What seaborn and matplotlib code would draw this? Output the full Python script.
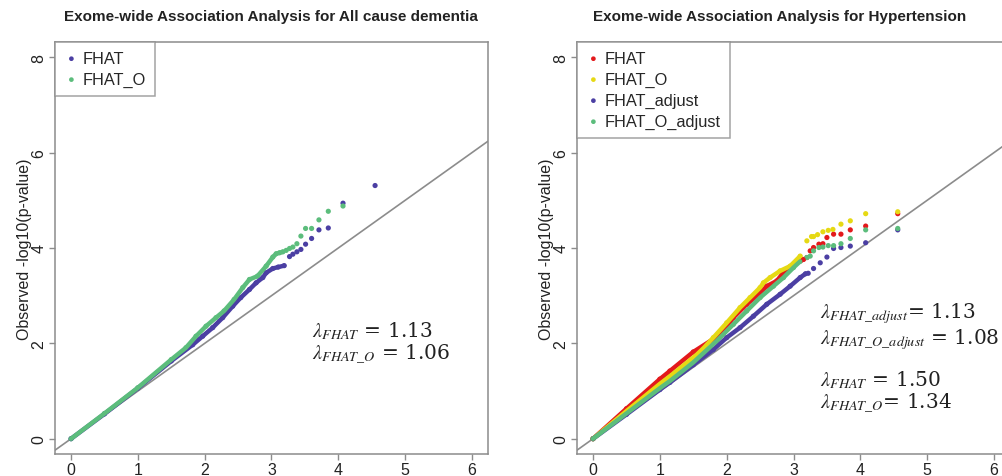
import numpy as np
import pandas as pd
import matplotlib
matplotlib.use("Agg")
import matplotlib.pyplot as plt
import seaborn as sns

# Expected vs observed -log10(p)
# --- All cause dementia ---
dem_fhat_x = [0, 0.5, 1.0, 1.5, 1.82, 1.97, 2.12, 2.27, 2.42, 2.54, 2.67, 2.77, 2.87, 2.92, 3.02, 3.10, 3.19,
              3.27, 3.32, 3.38, 3.44, 3.51, 3.60, 3.71, 3.85, 4.07, 4.55]
dem_fhat_y = [0, 0.52, 1.06, 1.63, 1.97, 2.15, 2.33, 2.54, 2.78, 2.96, 3.13, 3.27, 3.38, 3.48, 3.57, 3.60, 3.63,
              3.82, 3.87, 3.92, 3.97, 4.08, 4.20, 4.38, 4.42, 4.94, 5.31]
dem_fhato_x = [0, 0.5, 1.0, 1.5, 1.72, 1.87, 2.02, 2.17, 2.29, 2.44, 2.57, 2.67, 2.79, 2.92, 3.02, 3.07, 3.12, 3.17,
               3.22, 3.27, 3.32, 3.38, 3.44, 3.51, 3.60, 3.71, 3.85, 4.07]
dem_fhato_y = [0, 0.53, 1.07, 1.66, 1.91, 2.15, 2.36, 2.54, 2.68, 2.92, 3.17, 3.34, 3.41, 3.62, 3.81, 3.88, 3.90, 3.92,
               3.95, 3.99, 4.02, 4.09, 4.25, 4.41, 4.41, 4.59, 4.77, 4.88]

# --- Hypertension ---
hyp_fhat_x = [0, 0.5, 1.0, 1.15, 1.5, 1.9, 2.1, 2.3, 2.48, 2.6, 2.75, 2.83, 3.05, 3.15,
              3.2, 3.25, 3.3, 3.38, 3.44, 3.5, 3.6, 3.71, 3.85, 4.08, 4.56]
hyp_fhat_y = [0, 0.63, 1.25, 1.42, 1.82, 2.18, 2.54, 2.82, 3.03, 3.20, 3.31, 3.45, 3.69, 3.76,
              3.80, 3.94, 4.01, 4.08, 4.09, 4.22, 4.29, 4.29, 4.38, 4.46, 4.72]
hyp_fhato_x = [0, 0.5, 1.0, 1.15, 1.55, 1.66, 1.8, 2.0, 2.2, 2.35, 2.5, 2.55, 2.65, 2.8, 2.95, 3.1,
               3.2, 3.27, 3.3, 3.36, 3.44, 3.52, 3.59, 3.71, 3.85, 4.08, 4.56]
hyp_fhato_y = [0, 0.58, 1.15, 1.31, 1.76, 1.91, 2.12, 2.43, 2.75, 2.96, 3.17, 3.27, 3.38, 3.52, 3.62, 3.83,
               4.15, 4.24, 4.24, 4.28, 4.34, 4.37, 4.39, 4.50, 4.57, 4.72, 4.76]
hyp_adj_x = [0, 0.5, 1.0, 1.15, 1.5, 1.8, 2.0, 2.2, 2.4, 2.6, 2.8, 2.95, 3.1, 3.18,
             3.22, 3.30, 3.40, 3.50, 3.60, 3.71, 3.85, 4.08, 4.56]
hyp_adj_y = [0, 0.51, 1.03, 1.18, 1.55, 1.87, 2.12, 2.33, 2.57, 2.82, 3.03, 3.20, 3.38, 3.46,
             3.47, 3.57, 3.69, 3.81, 3.99, 4.01, 4.04, 4.11, 4.38]
hyp_oadj_x = [0, 0.5, 1.0, 1.15, 1.5, 1.85, 2.1, 2.3, 2.5, 2.7, 2.85, 3.0, 3.1,
              3.2, 3.25, 3.30, 3.38, 3.44, 3.52, 3.60, 3.71, 3.85, 4.08, 4.56]
hyp_oadj_y = [0, 0.53, 1.06, 1.21, 1.60, 2.05, 2.40, 2.68, 2.96, 3.20, 3.38, 3.59, 3.72,
              3.80, 3.83, 3.94, 4.01, 4.02, 4.05, 4.05, 4.09, 4.20, 4.38, 4.41]

titles = ["Exome-wide Association Analysis for All cause dementia",
          "Exome-wide Association Analysis for Hypertension"]

BLUE, GREEN, RED, YELLOW = "#4b3fa3", "#5cbd7c", "#e3191c", "#e6d914"

sns.set_theme(style="white")
plt.rcParams["font.family"] = ["Liberation Sans", "DejaVu Sans"]
plt.rcParams["mathtext.fontset"] = "stix"

fig = plt.figure(figsize=(10.03, 4.77), dpi=100)
ax1 = fig.add_axes([55 / 1003, 1 - 455 / 477, 433 / 1003, 412 / 477])
ax2 = fig.add_axes([577 / 1003, 1 - 455 / 477, 433 / 1003, 412 / 477])


def qq(ax, x, y, color, label, split):
    df = pd.DataFrame({"x": x, "y": y})
    dense = df[df["x"] <= split]
    sns.lineplot(data=dense, x="x", y="y", ax=ax, color=color, lw=3.2, sort=False)
    sns.scatterplot(data=df, x="x", y="y", ax=ax, color=color, s=14, edgecolor="none",
                    label=label)


for ax in (ax1, ax2):
    ax.axline((0, 0), slope=1, color="#8c8c8c", lw=1.2, zorder=1)

qq(ax1, dem_fhat_x, dem_fhat_y, BLUE, "FHAT", 3.19)
qq(ax1, dem_fhato_x, dem_fhato_y, GREEN, "FHAT_O", 3.17)

qq(ax2, hyp_fhat_x, hyp_fhat_y, RED, "FHAT", 3.15)
qq(ax2, hyp_fhato_x, hyp_fhato_y, YELLOW, "FHAT_O", 3.1)
qq(ax2, hyp_adj_x, hyp_adj_y, BLUE, "FHAT_adjust", 3.18)
qq(ax2, hyp_oadj_x, hyp_oadj_y, GREEN, "FHAT_O_adjust", 3.1)

for ax in (ax1, ax2):
    ax.set_xlim(-0.24, 6.24)
    ax.set_ylim(-0.32, 8.32)
    ax.set_xticks(range(0, 7))
    ax.set_yticks(range(0, 9, 2))
    ax.set_xlabel("")
    ax.set_ylabel("Observed -log10(p-value)", fontsize=11.5, color="#222222", labelpad=0)
    for s in ax.spines.values():
        s.set_color("#8c8c8c")
        s.set_linewidth(1.1)
    ax.tick_params(axis="both", direction="out", length=4, width=1, color="#8c8c8c",
                   labelsize=11.5, labelcolor="#222222", bottom=True, left=True, pad=2)
    for lab in ax.get_yticklabels():
        lab.set_rotation(90)
        lab.set_va("center")
    leg = ax.legend(loc="upper left", bbox_to_anchor=(0, 1), borderaxespad=0, fontsize=11.8,
                    frameon=True, fancybox=False, edgecolor="#8c8c8c", labelspacing=0.36,
                    handletextpad=0.25, handlelength=0.9, borderpad=0.55, markerscale=0.9)
    leg.get_frame().set_linewidth(1.1)

fig.text(271 / 1003, 1 - 17 / 477, titles[0], ha="center", va="center",
         fontsize=11, fontweight="bold", color="#222222")
fig.text(780 / 1003, 1 - 17 / 477, titles[1], ha="center", va="center",
         fontsize=11, fontweight="bold", color="#222222")

lam_kw = dict(fontsize=14.5, color="#222222", family=["DejaVu Serif"], va="center")
ax1.text(3.61, 2.28, r"$\lambda_{FHAT}$ = 1.13", **lam_kw)
ax1.text(3.61, 1.78, r"$\lambda_{FHAT\_O}$ = 1.06", **lam_kw)
ax2.text(3.40, 2.64, r"$\lambda_{FHAT\_adjust}$= 1.13", **lam_kw)
ax2.text(3.40, 2.10, r"$\lambda_{FHAT\_O\_adjust}$ = 1.08", **lam_kw)
ax2.text(3.40, 1.25, r"$\lambda_{FHAT}$ = 1.50", **lam_kw)
ax2.text(3.40, 0.75, r"$\lambda_{FHAT\_O}$= 1.34", **lam_kw)

fig.savefig("out.png", dpi=100)
